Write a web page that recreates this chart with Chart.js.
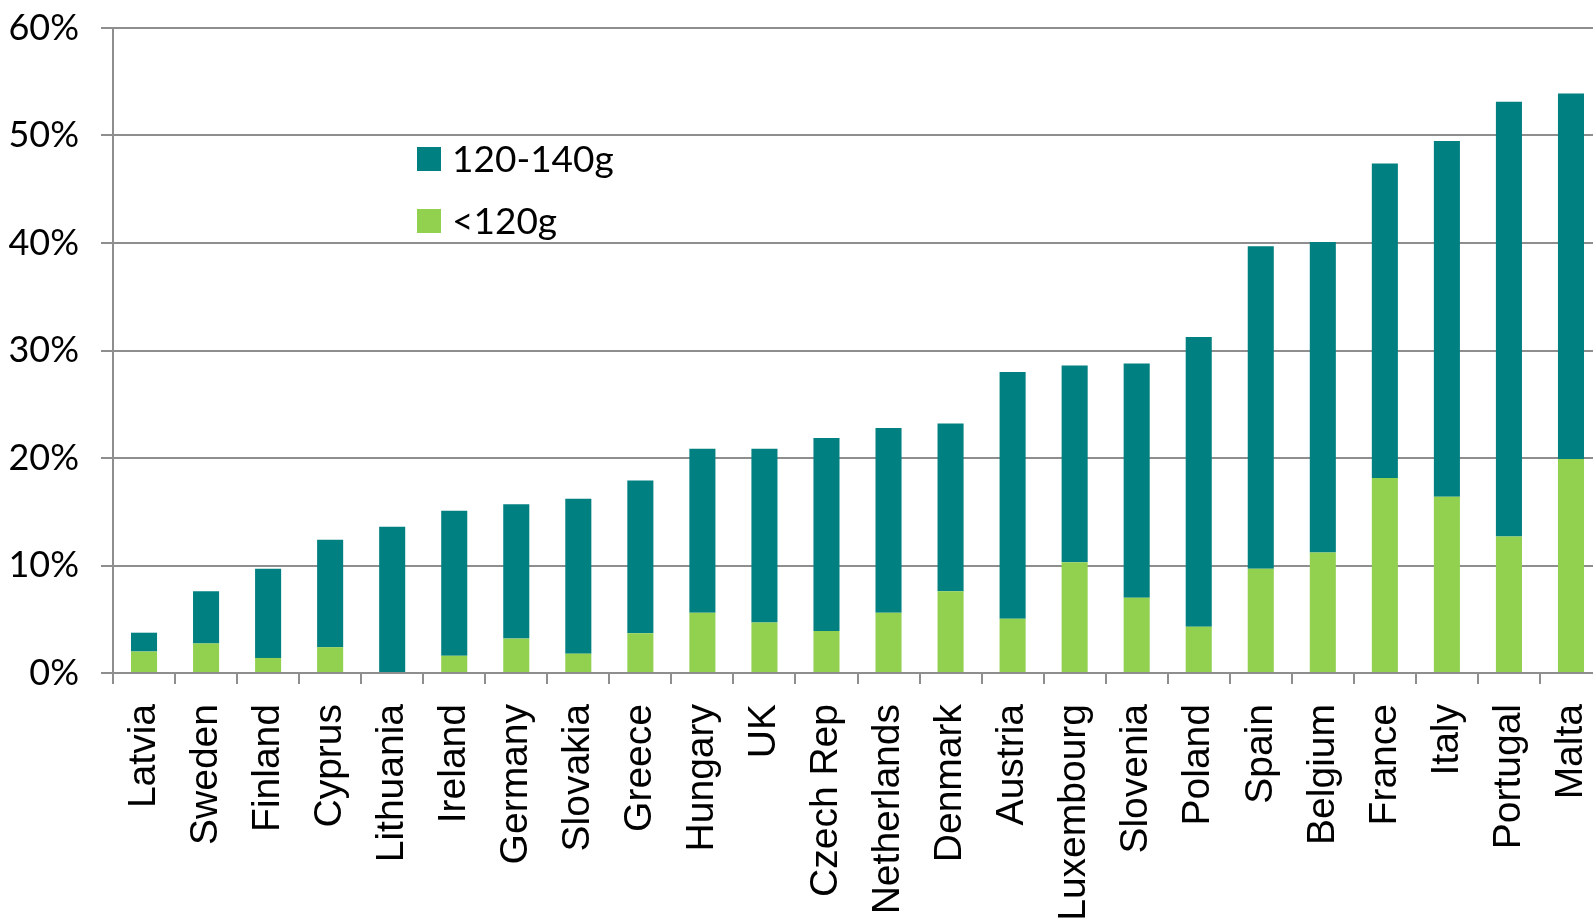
<!DOCTYPE html>
<html>
<head>
<meta charset="utf-8">
<script src="https://cdn.jsdelivr.net/npm/chart.js@4/dist/chart.umd.min.js"></script>
<style>
  html, body { margin: 0; padding: 0; background: #fff; overflow: hidden; }
  #c { display: block; }
</style>
</head>
<body>
<canvas id="c" width="1602" height="921" style="width:1602px;height:921px"></canvas>
<script>
// Share of new cars by CO2 emission band, per country (%)
const countries = ['Latvia', 'Sweden', 'Finland', 'Cyprus', 'Lithuania', 'Ireland', 'Germany',
  'Slovakia', 'Greece', 'Hungary', 'UK', 'Czech Rep', 'Netherlands', 'Denmark', 'Austria',
  'Luxembourg', 'Slovenia', 'Poland', 'Spain', 'Belgium', 'France', 'Italy', 'Portugal', 'Malta'];

// below 120 g/km
const under120 = [2.0, 2.75, 1.4, 2.4, 0.0, 1.6, 3.2, 1.8, 3.7, 5.6, 4.7, 3.9, 5.6, 7.6,
  5.05, 10.3, 7.0, 4.3, 9.7, 11.2, 18.15, 16.4, 12.7, 19.9];

// 120 to 140 g/km
const band120to140 = [1.75, 4.85, 8.3, 10.0, 13.6, 13.5, 12.5, 14.4, 14.2, 15.25, 16.15, 17.95,
  17.2, 15.6, 22.95, 18.3, 21.8, 26.95, 30.0, 28.9, 29.25, 33.1, 40.45, 34.0];

const seriesNames = ['<120g', '120-140g'];
const yTickValues = [0, 10, 20, 30, 40, 50, 60];

const GRID = '#8e8e8e';

// Legend drawn inside the plot area, top entry first
const insideLegend = {
  id: 'insideLegend',
  afterDraw(chart) {
    const ctx = chart.ctx;
    const order = [1, 0];
    ctx.save();
    ctx.font = '37px Lato';
    ctx.textBaseline = 'middle';
    ctx.textAlign = 'left';
    order.forEach((di, row) => {
      const ds = chart.data.datasets[di];
      const cy = 159 + row * 62;
      ctx.fillStyle = ds.backgroundColor;
      ctx.fillRect(417, cy - 12, 24, 24);
      ctx.fillStyle = '#000';
      ctx.fillText(ds.label, 452, cy + 1);
    });
    ctx.restore();
  }
};

new Chart(document.getElementById('c'), {
  type: 'bar',
  data: {
    labels: countries,
    datasets: [
      { label: seriesNames[0], data: under120, backgroundColor: '#92d050', borderWidth: 0 },
      { label: seriesNames[1], data: band120to140, backgroundColor: '#008080', borderWidth: 0 }
    ]
  },
  options: {
    responsive: false,
    animation: false,
    devicePixelRatio: 1,
    categoryPercentage: 1.0,
    barPercentage: 0.42,
    layout: { padding: { top: 28, right: 0, left: 0, bottom: 0 } },
    plugins: { legend: { display: false }, tooltip: { enabled: false } },
    scales: {
      x: {
        stacked: true,
        grid: {
          offset: true,
          drawOnChartArea: false,
          drawTicks: true,
          tickLength: 11,
          color: GRID,
          lineWidth: 2
        },
        border: { display: true, color: GRID, width: 2 },
        ticks: {
          autoSkip: false,
          minRotation: 90,
          maxRotation: 90,
          padding: 20,
          color: '#000',
          font: { family: 'Liberation Sans', size: 39 }
        },
        afterFit(scale) {
          scale.height = 248;
          scale.paddingLeft = 0;
          scale.paddingRight = 0;
        }
      },
      y: {
        stacked: true,
        min: 0,
        max: 60,
        afterBuildTicks(scale) { scale.ticks = yTickValues.map(v => ({ value: v })); },
        grid: { color: GRID, lineWidth: 2, tickLength: 12, drawTicks: true },
        border: { display: true, color: GRID, width: 2 },
        ticks: {
          padding: 22,
          color: '#000',
          font: { family: 'Lato', size: 36 },
          callback: v => v + '%'
        },
        afterFit(scale) {
          scale.width = 113;
          scale.paddingTop = 0;
          scale.paddingBottom = 0;
        }
      }
    }
  },
  plugins: [insideLegend]
});
</script>
</body>
</html>
